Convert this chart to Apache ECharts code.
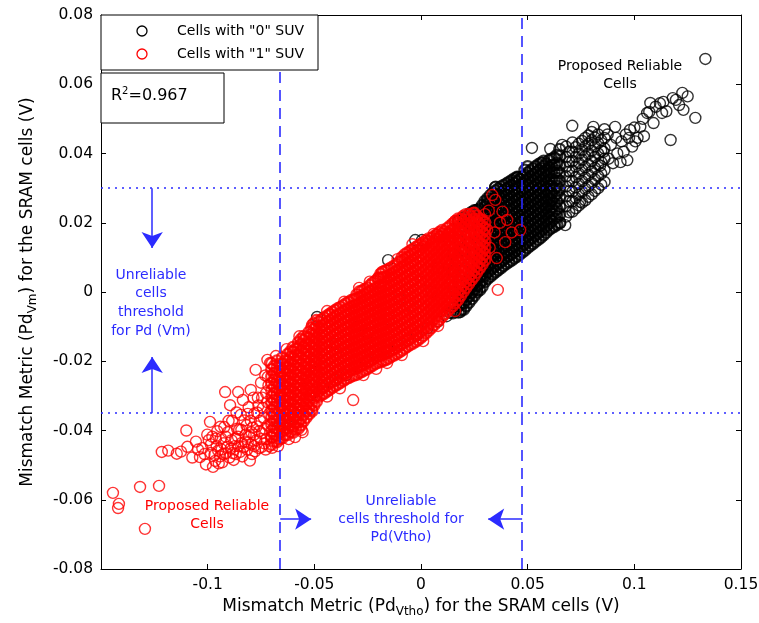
<!DOCTYPE html>
<html><head><meta charset="utf-8">
<script src="https://cdn.jsdelivr.net/npm/echarts@6/dist/echarts.min.js"></script>
<style>html,body{margin:0;padding:0;background:#fff}#c{width:759px;height:623px}</style>
</head><body><div id="c"></div><script>
const FONT = 'DejaVu Sans';
const BLUE = '#2b2bff';

// Cells with "0" SUV : isolated points [x, y]
const zeroPoints = [
[.1333,.0673],[.1225,.0575],[.118,.056],[.1136,.0549],[.1075,.0546],[.123,.0526],[.1286,.0503],[.117,.0439],[.113,.0517],[.106,.0517],[.109,.0488],[.1028,.0477],[.098,.0468],[.091,.0477],[.0808,.0477],[.0709,.048],[.052,.0416],[.0606,.0413],[.0662,.0425],[.1015,.0445],[.0967,.0381],[.090,.0372],[.0456,.0332],[.0653,.020],[.0746,.026],[.0676,.0193],
[.092,.040],[.094,.0435],[.096,.0455],[.099,.042],[.100,.0475],[.104,.050],[.1045,.045],[.107,.052],[.110,.0535],[.112,.0545],[.115,.0522],[.1195,.0555],[.121,.054],[.125,.0565],[.0935,.0375],[.095,.0405],[.0975,.0445],[.1005,.0435],[.088,.0385],[.089,.0425],[.0915,.0445],[.0875,.0455],[.0855,.0405],[.084,.0365],
[-.066,-.038],[-.060,-.036],[-.052,-.030],[-.046,-.0277],[-.040,-.0255],[-.035,-.024],[-.030,-.0215],[-.025,-.020],[-.020,-.0185],[-.015,-.017],[-.011,-.0153],[-.006,-.014],[-.002,-.0125],[.003,-.0105],[.008,-.0085],[.012,-.007],[-.050,-.020],[-.040,-.015],[-.030,-.010],[-.020,-.006],[-.010,-.002],[0,.003],[.008,.007],[-.035,-.018],[-.025,-.012],[-.015,-.008],[-.005,-.004],[.005,0],[-.045,-.022],[-.055,-.028],
[-.0154,.0092],[-.0487,-.0072],[.0005,.015],[.0076,.0165],[-.0027,.015],[.009,.0159],[.0175,.018],[.0263,.0006],[.0184,-.0058],[.0136,-.006],[.026,.0237],[.031,.026],[.0348,.0303],[.045,.033],[.057,.0373]
];
// Cells with "0" SUV : dense core, each row is [x, y1, y2, ...]
const zeroColumns = [
[.0150,-.0060,-.0042,.0015,.0060,.0110,.0160],
[.0162,-.0055,-.0037,-.0019,.0000],
[.0175,-.0058,-.0040,-.0022,.0030,.0090,.0150,.0205],
[.0187,-.0052,-.0034,-.0016,.0002,.0020],
[.0200,-.0050,-.0032,-.0014,.0004,.0060,.0120,.0190,.0215],
[.0212,-.0040,-.0022,-.0004,.0014,.0032],
[.0225,-.0030,-.0012,.0006,.0024,.0080,.0140,.0200,.0225],
[.0237,-.0020,-.0002,.0016,.0034,.0052,.0230],
[.0250,-.0010,.0008,.0026,.0044,.0062,.0110,.0170,.0215,.0235],
[.0262,.0000,.0018,.0036,.0054,.0072,.0235],
[.0275,.0006,.0024,.0042,.0060,.0078,.0096,.0130,.0170,.0210,.0240],
[.0287,.0016,.0034,.0052,.0070,.0088,.0105,.0250],
[.0300,.0030,.0048,.0066,.0084,.0102,.0120,.0138,.0156,.0174,.0192,.0210,.0228,.0246,.0262],
[.0312,.0039,.0057,.0075,.0093,.0111,.0129,.0147,.0165,.0183,.0201,.0219,.0237,.0255,.0270],
[.0325,.0045,.0063,.0081,.0099,.0117,.0135,.0153,.0171,.0189,.0207,.0225,.0243,.0261,.0279],
[.0337,.0052,.0070,.0088,.0106,.0124,.0142,.0160,.0178,.0196,.0214,.0232,.0250,.0268,.0286],
[.0350,.0058,.0076,.0094,.0112,.0130,.0148,.0166,.0184,.0202,.0220,.0238,.0256,.0274,.0292,.0303],
[.0362,.0064,.0082,.0100,.0118,.0136,.0154,.0172,.0190,.0208,.0226,.0244,.0262,.0280,.0298],
[.0375,.0070,.0088,.0106,.0124,.0142,.0160,.0178,.0196,.0214,.0232,.0250,.0268,.0286,.0304],
[.0387,.0076,.0094,.0112,.0130,.0148,.0166,.0184,.0202,.0220,.0238,.0256,.0274,.0292,.0308],
[.0400,.0082,.0100,.0118,.0136,.0154,.0172,.0190,.0208,.0226,.0244,.0262,.0280,.0298,.0312],
[.0412,.0087,.0105,.0123,.0141,.0159,.0177,.0195,.0213,.0231,.0249,.0267,.0285,.0303,.0317],
[.0425,.0092,.0110,.0128,.0146,.0164,.0182,.0200,.0218,.0236,.0254,.0272,.0290,.0308,.0322],
[.0437,.0098,.0116,.0134,.0152,.0170,.0188,.0206,.0224,.0242,.0260,.0278,.0296,.0314,.0327],
[.0450,.0103,.0121,.0139,.0157,.0175,.0193,.0211,.0229,.0247,.0265,.0283,.0301,.0319,.0332],
[.0462,.0109,.0127,.0145,.0163,.0181,.0199,.0217,.0235,.0253,.0271,.0289,.0307,.0325],
[.0475,.0115,.0133,.0151,.0169,.0187,.0205,.0223,.0241,.0259,.0277,.0295,.0313,.0331],
[.0487,.0121,.0139,.0157,.0175,.0193,.0211,.0229,.0247,.0265,.0283,.0301,.0319,.0337,.0352],
[.0500,.0128,.0146,.0164,.0182,.0200,.0218,.0236,.0254,.0272,.0290,.0308,.0326,.0344,.0362],
[.0512,.0134,.0152,.0170,.0188,.0206,.0224,.0242,.0260,.0278,.0296,.0314,.0332,.0350],
[.0525,.0140,.0158,.0176,.0194,.0212,.0230,.0248,.0266,.0284,.0302,.0320,.0338,.0356],
[.0537,.0146,.0164,.0182,.0200,.0218,.0236,.0254,.0272,.0290,.0308,.0326,.0344,.0362],
[.0550,.0152,.0170,.0188,.0206,.0224,.0242,.0260,.0278,.0296,.0314,.0332,.0350,.0368],
[.0562,.0158,.0176,.0194,.0212,.0230,.0248,.0266,.0284,.0302,.0320,.0338,.0356,.0372],
[.0575,.0165,.0183,.0201,.0219,.0237,.0255,.0273,.0291,.0309,.0327,.0345,.0363,.0378],
[.0587,.0172,.0190,.0208,.0226,.0244,.0262,.0280,.0298,.0316,.0334,.0352,.0370],
[.0600,.0180,.0198,.0216,.0234,.0252,.0270,.0288,.0306,.0324,.0342,.0360,.0380],
[.0612,.0185,.0205,.0225,.0245,.0265,.0285,.0305,.0325,.0345,.0365,.0384],
[.0625,.0190,.0212,.0234,.0256,.0278,.0300,.0322,.0344,.0366,.0388],
[.0637,.0195,.0218,.0240,.0262,.0284,.0306,.0328,.0350,.0372,.0395],
[.0650,.0200,.0224,.0248,.0272,.0296,.0320,.0344,.0368,.0392,.0412]
];
// Cells with "0" SUV : looser band above the core, each row is [x, y1, y2, ...]
const zeroOuterColumns = [
[.0680,.0218,.0248,.0276,.0305,.0334,.0362,.0390,.0420],
[.0695,.0230,.0262,.0291,.0320,.0348,.0376,.0405],
[.0710,.0232,.0262,.0290,.0320,.0350,.0378,.0405,.0432],
[.0725,.0242,.0272,.0302,.0332,.0362,.0390,.0418],
[.0740,.0250,.0282,.0312,.0342,.0372,.0400,.0428],
[.0755,.0258,.0290,.0320,.0352,.0382,.0410,.0436],
[.0770,.0265,.0298,.0330,.0360,.0392,.0420,.0445],
[.0785,.0275,.0306,.0338,.0368,.0400,.0428,.0452],
[.0800,.0282,.0315,.0348,.0378,.0408,.0438,.0462],
[.0815,.0292,.0325,.0358,.0390,.0420,.0446],
[.0830,.0300,.0335,.0368,.0400,.0430,.0455],
[.0845,.0310,.0342,.0375,.0408,.0438],
[.0860,.0318,.0352,.0385,.0415,.0445,.0470]
];

// Cells with "1" SUV : isolated points [x, y]
const onePoints = [
[-.1444,-.058],[-.1416,-.0612],[-.142,-.0624],[-.1317,-.0563],[-.1228,-.056],[-.1294,-.0684],
[-.1215,-.0462],[-.1185,-.0458],[-.1145,-.0467],[-.1125,-.0461],[-.110,-.040],[-.1095,-.0447],[-.1072,-.0478],[-.1055,-.0432],[-.1036,-.0477],[-.1025,-.0451],[-.1008,-.0498],[-.1002,-.0412],[-.0989,-.0375],[-.0985,-.044],[-.0975,-.0505],[-.0968,-.0471],[-.0962,-.0423],[-.0951,-.0458],[-.094,-.0389],[-.0932,-.0492],[-.0925,-.0437],[-.0918,-.0289],[-.0915,-.0466],[-.0905,-.0405],[-.0895,-.0327],[-.0892,-.0452],[-.0885,-.0372],[-.0878,-.0485],[-.0871,-.0423],[-.0865,-.0348],[-.0857,-.0289],[-.0852,-.0398],[-.0848,-.0462],[-.084,-.0436],[-.0835,-.0312],[-.0828,-.0371],[-.0822,-.0412],[-.0815,-.0455],[-.0808,-.0333],[-.0802,-.0487],[-.0798,-.0283],[-.0792,-.0468],[-.0788,-.0392],[-.0781,-.0351],[-.0775,-.0225],[-.0772,-.0428],[-.0765,-.0305],[-.076,-.0451],[-.0755,-.0372],[-.075,-.0262],[-.0745,-.0408],[-.0741,-.0335],[-.0735,-.0437],[-.073,-.0241],[-.0726,-.0292],[-.072,-.0196],[-.0718,-.0385],[-.0712,-.0352],[-.0707,-.0205],[-.0703,-.0418],[-.0698,-.045],
[-.0965,-.0488],[-.0942,-.0475],[-.0915,-.0418],[-.0898,-.0478],[-.0872,-.0445],[-.0862,-.0395],[-.0845,-.0355],[-.0832,-.0448],[-.0818,-.0385],[-.0805,-.0418],[-.0795,-.044],[-.0785,-.0305],[-.0778,-.046],[-.0768,-.0348],[-.0752,-.0425],[-.0738,-.0362],[-.0728,-.0455],[-.0722,-.0318],[-.0715,-.027],[-.1045,-.0455],[-.1015,-.0468],[-.0995,-.0428],[-.0955,-.0402],[-.0935,-.0455],[-.0922,-.039],
[-.0985,-.0465],[-.0978,-.0418],[-.0958,-.0445],[-.0948,-.0495],[-.0938,-.0422],[-.0928,-.0468],[-.0908,-.0448],[-.0902,-.0372],[-.0888,-.0428],[-.0882,-.0465],[-.0868,-.0468],[-.0858,-.0418],[-.0855,-.0445],[-.0842,-.0398],[-.0838,-.0475],[-.0825,-.0432],[-.0812,-.0435],[-.0812,-.0352],[-.0798,-.0372],[-.0795,-.0405],[-.0782,-.0412],[-.0782,-.0445],[-.077,-.0388],[-.0762,-.0328],[-.0758,-.0402],[-.0748,-.0448],[-.0745,-.0305],[-.0732,-.0395],[-.0725,-.0425],[-.0718,-.0245],[-.0712,-.0445],
[-.059,-.0419],[-.0318,-.0312],[-.0159,-.0205],[.036,.0006],[-.0426,-.0067],[-.0485,-.0282],[-.0555,-.0405],[-.02,.0042],[-.0182,.0058],[.0035,.0155],[.0137,.017],[.0245,.0228],
[.0348,.0266],[.0334,.028],[.0404,.0208],[.0465,.0179],[.0395,.0144],[.037,.020],[.0318,.0235],[.0345,.0172],[.0322,.0128],[.0425,.0172],[.0382,.0232],[.0355,.0098],[.030,.0225],[.031,.018],
[-.068,-.0185],[-.063,-.0165],[-.057,-.0128],[-.051,-.0095],[-.044,-.0055],[-.036,-.0028],[-.029,.0012],[-.024,.003],[-.011,.0095],[-.004,.0138],[.006,.0168],[.016,.0205],[.021,.0225],
[-.067,-.0445],[-.062,-.0425],[-.056,-.0398],[-.051,-.0345],[-.044,-.0302],[-.038,-.0278],[-.027,-.024],[-.021,-.0222],[-.009,-.0182],[.001,-.0142],[.008,-.0098],[.016,-.0055]
];
// Cells with "1" SUV : dense core, each row is [x, y1, y2, ...]
const oneColumns = [
[-.0700,-.0440,-.0420,-.0401,-.0382,-.0361,-.0342,-.0322,-.0303,-.0284,-.0263,-.0244,-.0224,-.0206],
[-.0688,-.0431,-.0411,-.0392,-.0372,-.0352,-.0333,-.0313,-.0293,-.0274,-.0254,-.0235,-.0214],
[-.0675,-.0432,-.0413,-.0393,-.0374,-.0355,-.0336,-.0316,-.0297,-.0277,-.0258,-.0239,-.0219,-.0199],
[-.0662,-.0424,-.0404,-.0384,-.0365,-.0345,-.0326,-.0306,-.0287,-.0268,-.0248,-.0229,-.0208],
[-.0650,-.0421,-.0402,-.0383,-.0364,-.0344,-.0325,-.0306,-.0286,-.0267,-.0248,-.0228,-.0209,-.0190],
[-.0637,-.0412,-.0393,-.0373,-.0354,-.0335,-.0315,-.0296,-.0276,-.0257,-.0238,-.0218,-.0199],
[-.0625,-.0412,-.0393,-.0374,-.0354,-.0335,-.0316,-.0296,-.0277,-.0258,-.0238,-.0219,-.0200,-.0180],
[-.0612,-.0403,-.0384,-.0364,-.0345,-.0325,-.0306,-.0287,-.0267,-.0248,-.0228,-.0209,-.0189,-.0172],
[-.0600,-.0405,-.0386,-.0367,-.0347,-.0328,-.0309,-.0289,-.0270,-.0251,-.0231,-.0212,-.0193,-.0173,-.0160],
[-.0588,-.0396,-.0376,-.0357,-.0338,-.0318,-.0299,-.0280,-.0260,-.0241,-.0222,-.0202,-.0183,-.0165],
[-.0575,-.0394,-.0375,-.0356,-.0336,-.0317,-.0298,-.0278,-.0259,-.0240,-.0220,-.0201,-.0182,-.0162,-.0146],
[-.0563,-.0384,-.0365,-.0345,-.0326,-.0307,-.0287,-.0268,-.0249,-.0229,-.0210,-.0191,-.0171,-.0152,-.0137],
[-.0550,-.0372,-.0353,-.0334,-.0314,-.0295,-.0276,-.0256,-.0237,-.0218,-.0198,-.0179,-.0160,-.0140,-.0128],
[-.0538,-.0362,-.0343,-.0324,-.0305,-.0285,-.0266,-.0247,-.0227,-.0208,-.0189,-.0170,-.0150,-.0132],
[-.0525,-.0352,-.0335,-.0314,-.0297,-.0279,-.0262,-.0241,-.0226,-.0207,-.0188,-.0172,-.0151,-.0133,-.0116],
[-.0513,-.0340,-.0321,-.0303,-.0286,-.0268,-.0249,-.0231,-.0213,-.0195,-.0177,-.0159,-.0141,-.0122,-.0104],
[-.0502,-.0327,-.0306,-.0290,-.0271,-.0253,-.0234,-.0218,-.0199,-.0180,-.0163,-.0144,-.0126,-.0108,-.0091],
[-.0490,-.0316,-.0298,-.0280,-.0262,-.0243,-.0226,-.0208,-.0190,-.0171,-.0153,-.0135,-.0117,-.0099,-.0082],
[-.0478,-.0301,-.0285,-.0266,-.0247,-.0231,-.0212,-.0193,-.0176,-.0158,-.0139,-.0121,-.0104,-.0086],
[-.0465,-.0296,-.0278,-.0260,-.0242,-.0224,-.0206,-.0188,-.0170,-.0152,-.0134,-.0116,-.0098,-.0080],
[-.0453,-.0292,-.0274,-.0255,-.0238,-.0219,-.0202,-.0183,-.0166,-.0147,-.0129,-.0112,-.0094,-.0075],
[-.0440,-.0286,-.0268,-.0250,-.0232,-.0213,-.0195,-.0177,-.0159,-.0141,-.0123,-.0105,-.0087,-.0069],
[-.0428,-.0281,-.0262,-.0245,-.0226,-.0209,-.0190,-.0172,-.0155,-.0136,-.0118,-.0101,-.0083,-.0064],
[-.0415,-.0275,-.0257,-.0239,-.0221,-.0203,-.0185,-.0166,-.0148,-.0130,-.0112,-.0094,-.0076,-.0058],
[-.0402,-.0270,-.0252,-.0233,-.0216,-.0198,-.0179,-.0162,-.0143,-.0125,-.0108,-.0090,-.0071,-.0053],
[-.0390,-.0266,-.0248,-.0229,-.0211,-.0193,-.0175,-.0157,-.0139,-.0121,-.0103,-.0085,-.0066,-.0048],
[-.0377,-.0261,-.0243,-.0225,-.0206,-.0188,-.0170,-.0152,-.0134,-.0116,-.0098,-.0080,-.0062,-.0044],
[-.0364,-.0256,-.0238,-.0220,-.0202,-.0184,-.0165,-.0147,-.0129,-.0111,-.0093,-.0075,-.0057,-.0039],
[-.0352,-.0251,-.0233,-.0214,-.0197,-.0178,-.0160,-.0142,-.0124,-.0106,-.0088,-.0070,-.0052,-.0034],
[-.0339,-.0247,-.0229,-.0211,-.0192,-.0174,-.0156,-.0138,-.0120,-.0102,-.0084,-.0066,-.0047,-.0029],
[-.0326,-.0243,-.0224,-.0206,-.0188,-.0170,-.0152,-.0134,-.0115,-.0097,-.0079,-.0061,-.0043,-.0024],
[-.0313,-.0240,-.0222,-.0203,-.0185,-.0167,-.0149,-.0131,-.0113,-.0094,-.0076,-.0058,-.0040,-.0021],
[-.0301,-.0238,-.0219,-.0201,-.0183,-.0164,-.0146,-.0128,-.0110,-.0092,-.0074,-.0055,-.0037,-.0019,-.0008],
[-.0288,-.0233,-.0215,-.0197,-.0178,-.0160,-.0142,-.0124,-.0106,-.0088,-.0069,-.0051,-.0033,-.0015,.0001],
[-.0276,-.0229,-.0211,-.0192,-.0174,-.0156,-.0138,-.0120,-.0102,-.0083,-.0065,-.0047,-.0029,-.0011,.0003],
[-.0263,-.0225,-.0207,-.0188,-.0170,-.0152,-.0134,-.0116,-.0097,-.0079,-.0061,-.0043,-.0025,-.0006,.0008],
[-.0251,-.0221,-.0203,-.0185,-.0166,-.0148,-.0130,-.0112,-.0094,-.0075,-.0057,-.0039,-.0021,-.0003,.0012],
[-.0239,-.0216,-.0198,-.0180,-.0162,-.0144,-.0125,-.0107,-.0089,-.0071,-.0053,-.0034,-.0016,.0002,.0019],
[-.0227,-.0212,-.0194,-.0176,-.0158,-.0140,-.0121,-.0103,-.0085,-.0067,-.0049,-.0030,-.0012,.0006,.0026],
[-.0214,-.0207,-.0189,-.0171,-.0153,-.0135,-.0117,-.0098,-.0080,-.0062,-.0044,-.0026,-.0008,.0011,.0031],
[-.0201,-.0203,-.0185,-.0167,-.0149,-.0131,-.0113,-.0094,-.0076,-.0058,-.0040,-.0022,-.0003,.0015,.0038],
[-.0189,-.0201,-.0183,-.0164,-.0146,-.0128,-.0110,-.0092,-.0074,-.0055,-.0037,-.0019,.0000,.0018,.0040,.0052],
[-.0176,-.0198,-.0180,-.0162,-.0143,-.0125,-.0107,-.0089,-.0071,-.0052,-.0034,-.0016,.0002,.0021,.0042,.0058],
[-.0164,-.0195,-.0176,-.0158,-.0140,-.0122,-.0104,-.0085,-.0067,-.0049,-.0031,-.0012,.0006,.0025,.0044,.0062],
[-.0151,-.0191,-.0173,-.0155,-.0136,-.0118,-.0100,-.0082,-.0063,-.0045,-.0027,-.0009,.0010,.0028,.0047,.0066],
[-.0139,-.0186,-.0168,-.0150,-.0132,-.0114,-.0095,-.0077,-.0059,-.0041,-.0022,-.0004,.0014,.0033,.0051,.0070],
[-.0126,-.0182,-.0164,-.0146,-.0127,-.0109,-.0091,-.0073,-.0054,-.0036,-.0018,.0001,.0019,.0037,.0056,.0075],
[-.0114,-.0178,-.0160,-.0141,-.0123,-.0105,-.0086,-.0068,-.0050,-.0031,-.0013,.0005,.0024,.0042,.0061,.0080],
[-.0101,-.0173,-.0155,-.0137,-.0118,-.0100,-.0082,-.0063,-.0045,-.0027,-.0008,.0010,.0028,.0047,.0065,.0087],
[-.0089,-.0168,-.0150,-.0131,-.0113,-.0095,-.0076,-.0058,-.0040,-.0021,-.0003,.0015,.0034,.0052,.0071,.0090,.0100],
[-.0076,-.0162,-.0144,-.0126,-.0107,-.0089,-.0071,-.0052,-.0034,-.0016,.0003,.0021,.0039,.0058,.0076,.0094,.0108],
[-.0064,-.0157,-.0139,-.0121,-.0102,-.0084,-.0066,-.0047,-.0029,-.0010,.0008,.0026,.0045,.0063,.0081,.0100,.0113],
[-.0051,-.0152,-.0134,-.0115,-.0097,-.0079,-.0060,-.0042,-.0024,-.0005,.0013,.0031,.0050,.0068,.0086,.0104,.0118],
[-.0039,-.0148,-.0130,-.0111,-.0093,-.0074,-.0056,-.0038,-.0019,-.0001,.0018,.0036,.0054,.0073,.0091,.0110,.0123],
[-.0026,-.0143,-.0125,-.0106,-.0088,-.0070,-.0051,-.0033,-.0015,.0004,.0022,.0040,.0059,.0077,.0095,.0114,.0128],
[-.0014,-.0138,-.0120,-.0101,-.0083,-.0064,-.0046,-.0028,-.0009,.0009,.0028,.0046,.0064,.0083,.0101,.0119,.0133],
[-.0001,-.0132,-.0114,-.0096,-.0077,-.0059,-.0041,-.0022,-.0004,.0015,.0033,.0051,.0070,.0088,.0106,.0124,.0138],
[.0011,-.0125,-.0107,-.0089,-.0070,-.0052,-.0034,-.0015,.0003,.0022,.0040,.0058,.0077,.0095,.0113,.0131,.0143],
[.0024,-.0118,-.0100,-.0082,-.0063,-.0045,-.0027,-.0008,.0010,.0029,.0047,.0065,.0084,.0102,.0120,.0139,.0149],
[.0036,-.0111,-.0092,-.0074,-.0056,-.0037,-.0019,.0000,.0018,.0036,.0055,.0073,.0091,.0110,.0128,.0146],
[.0049,-.0103,-.0085,-.0067,-.0048,-.0030,-.0012,.0007,.0025,.0043,.0062,.0080,.0098,.0117,.0135,.0155],
[.0061,-.0095,-.0077,-.0058,-.0040,-.0022,-.0003,.0015,.0034,.0052,.0070,.0089,.0107,.0125,.0144,.0160],
[.0074,-.0086,-.0068,-.0050,-.0031,-.0013,.0005,.0024,.0042,.0060,.0079,.0097,.0115,.0134,.0152,.0166],
[.0086,-.0079,-.0060,-.0042,-.0024,-.0005,.0013,.0031,.0050,.0068,.0086,.0105,.0123,.0141,.0160,.0172],
[.0099,-.0071,-.0052,-.0034,-.0016,.0003,.0021,.0039,.0058,.0076,.0094,.0113,.0131,.0149,.0168,.0178],
[.0111,-.0063,-.0044,-.0026,-.0007,.0011,.0029,.0048,.0066,.0084,.0103,.0121,.0139,.0158,.0174],
[.0124,-.0054,-.0036,-.0017,.0001,.0019,.0038,.0056,.0074,.0093,.0111,.0129,.0148,.0166,.0184],
[.0136,-.0047,-.0028,-.0010,.0009,.0027,.0045,.0064,.0082,.0100,.0119,.0137,.0155,.0174,.0190],
[.0149,-.0040,-.0021,-.0003,.0015,.0034,.0052,.0070,.0089,.0107,.0125,.0144,.0162,.0180,.0197],
[.0161,-.0031,-.0012,.0006,.0024,.0043,.0061,.0079,.0098,.0116,.0134,.0153,.0171,.0189,.0204],
[.0174,-.0022,-.0004,.0015,.0033,.0051,.0070,.0088,.0106,.0125,.0143,.0161,.0180,.0198,.0211],
[.0186,-.0010,.0008,.0027,.0045,.0063,.0082,.0100,.0118,.0137,.0155,.0173,.0192,.0210],
[.0199,.0002,.0020,.0038,.0057,.0075,.0093,.0112,.0130,.0148,.0167,.0185,.0203,.0219],
[.0211,.0013,.0031,.0049,.0068,.0086,.0104,.0123,.0141,.0159,.0178,.0196,.0214],
[.0224,.0024,.0043,.0061,.0079,.0098,.0116,.0134,.0153,.0171,.0189,.0208,.0224],
[.0236,.0035,.0053,.0072,.0090,.0108,.0127,.0145,.0163,.0182,.0200,.0218],
[.0249,.0045,.0063,.0082,.0100,.0118,.0137,.0155,.0173,.0192,.0210,.0228],
[.0261,.0057,.0075,.0094,.0112,.0130,.0149,.0167,.0185,.0203,.0220],
[.0274,.0068,.0086,.0105,.0123,.0141,.0160,.0178,.0196,.0212],
[.0287,.0080,.0099,.0117,.0135,.0154,.0172,.0190,.0207],
[.0299,.0092,.0110,.0128,.0147,.0165,.0183,.0201]
];

const seriesNames = ['Cells with "0" SUV', 'Cells with "1" SUV'];
const xThresholds = [-0.066, 0.0474];   // Pd(Vtho) thresholds
const yThresholds = [0.030, -0.035];    // Pd(Vm) thresholds
const rSquared = '0.967';

// Build scatter items; points in the crowded core get a heavier outline so the
// overlapping circles read as the solid mass seen in the original.
function pointsToItems(points, width) {
  return points.map(p => ({value: p, itemStyle: {borderWidth: width}}));
}
function columnsToItems(columns, width) {
  const out = [];
  columns.forEach(c => { for (let i = 1; i < c.length; i++) out.push({value: [c[0], c[i]], itemStyle: {borderWidth: width}}); });
  return out;
}
const zeroData = pointsToItems(zeroPoints, 1.4)
  .concat(columnsToItems(zeroColumns, 2.2))
  .concat(columnsToItems(zeroOuterColumns, 1.5));
const oneData = columnsToItems(oneColumns, 2.2).concat(pointsToItems(onePoints, 1.4));

const chart = echarts.init(document.getElementById('c'), null, {renderer: 'canvas'});
const axisCommon = {
  type: 'value',
  axisLine: {show: true, onZero: false, lineStyle: {color: '#000', width: 1}},
  axisTick: {show: true, inside: true, length: 5, lineStyle: {color: '#000'}},
  splitLine: {show: false}
};

chart.setOption({
  animation: false,
  backgroundColor: '#fff',
  grid: {left: 101, top: 15, width: 640, height: 554, outerBoundsMode: 'none', containLabel: false},
  xAxis: [
    Object.assign({}, axisCommon, {
      min: -0.15, max: 0.15, interval: 0.05, position: 'bottom',
      axisLabel: {color: '#000', fontFamily: FONT, fontSize: 15.5, margin: 8,
        formatter: v => (Math.abs(v + 0.15) < 1e-9 ? '' : String(+v.toFixed(4)))},
      name: 'Mismatch Metric (Pd{sub|Vtho}) for the SRAM cells (V)',
      nameLocation: 'middle', nameGap: 27,
      nameTextStyle: {color: '#000', fontFamily: FONT, fontSize: 17,
        rich: {sub: {fontFamily: FONT, fontSize: 12, color: '#000', padding: [10, 0, 0, 0]}}}
    }),
    Object.assign({}, axisCommon, {
      min: -0.15, max: 0.15, interval: 0.05, position: 'top', axisLabel: {show: false}
    })
  ],
  yAxis: [
    Object.assign({}, axisCommon, {
      min: -0.08, max: 0.08, interval: 0.02, position: 'left',
      axisLabel: {color: '#000', fontFamily: FONT, fontSize: 15.5, margin: 8,
        formatter: v => String(+v.toFixed(4))},
      name: 'Mismatch Metric (Pd{sub|Vm}) for the SRAM cells (V)',
      nameLocation: 'middle', nameGap: 62,
      nameTextStyle: {color: '#000', fontFamily: FONT, fontSize: 17,
        rich: {sub: {fontFamily: FONT, fontSize: 12, color: '#000', padding: [10, 0, 0, 0]}}}
    }),
    Object.assign({}, axisCommon, {
      min: -0.08, max: 0.08, interval: 0.02, position: 'right', axisLabel: {show: false}
    })
  ],
  series: [
    {
      type: 'scatter', name: seriesNames[0], data: zeroData, symbol: 'circle', symbolSize: 11,
      itemStyle: {color: 'rgba(0,0,0,0)', borderColor: '#000', borderWidth: 1.4},
      silent: true, z: 2, large: false, progressive: 0
    },
    {
      type: 'scatter', name: seriesNames[1], data: oneData, symbol: 'circle', symbolSize: 11,
      itemStyle: {color: 'rgba(0,0,0,0)', borderColor: '#ff0000', borderWidth: 1.4},
      silent: true, z: 3, large: false, progressive: 0
    },
    {
      type: 'scatter', name: 'thresholds', data: [], z: 5, silent: true,
      markLine: {
        silent: true, symbol: 'none', animation: false, precision: 5, label: {show: false},
        data: [
          {xAxis: xThresholds[0], lineStyle: {color: BLUE, width: 1.6, type: [11, 7]}},
          {xAxis: xThresholds[1], lineStyle: {color: BLUE, width: 1.6, type: [11, 7]}},
          {yAxis: yThresholds[0], lineStyle: {color: BLUE, width: 1.6, type: [2, 5]}},
          {yAxis: yThresholds[1], lineStyle: {color: BLUE, width: 1.6, type: [2, 5]}}
        ]
      }
    },
    {
      type: 'scatter', name: 'arrows', data: [], z: 6, silent: true,
      markLine: {
        silent: true, symbol: ['none', 'arrow'], symbolSize: 16, animation: false, precision: 5,
        label: {show: false}, lineStyle: {color: BLUE, width: 1.5, type: 'solid'},
        data: [
          [{coord: [-0.126, yThresholds[0]]}, {coord: [-0.126, 0.0127]}],
          [{coord: [-0.126, yThresholds[1]]}, {coord: [-0.126, -0.0188]}],
          [{coord: [xThresholds[0], -0.0656]}, {coord: [-0.0515, -0.0656]}],
          [{coord: [xThresholds[1], -0.0656]}, {coord: [0.0315, -0.0656]}]
        ]
      }
    }
  ],
  graphic: [
    {type: 'rect', z: 100, shape: {x: 101, y: 15, width: 217, height: 55},
      style: {fill: '#fff', stroke: '#000', lineWidth: 1}},
    {type: 'circle', z: 101, shape: {cx: 142, cy: 31, r: 5},
      style: {fill: 'none', stroke: '#000', lineWidth: 1.3}},
    {type: 'circle', z: 101, shape: {cx: 142, cy: 54, r: 5},
      style: {fill: 'none', stroke: '#ff0000', lineWidth: 1.3}},
    {type: 'text', z: 101, style: {text: seriesNames[0], x: 177, y: 31, font: '14px "DejaVu Sans"',
      fill: '#000', align: 'left', verticalAlign: 'middle'}},
    {type: 'text', z: 101, style: {text: seriesNames[1], x: 177, y: 54, font: '14px "DejaVu Sans"',
      fill: '#000', align: 'left', verticalAlign: 'middle'}},
    {type: 'rect', z: 100, shape: {x: 101, y: 73, width: 123, height: 50},
      style: {fill: '#fff', stroke: '#000', lineWidth: 1}},
    {type: 'text', z: 101, style: {text: 'R{sup|2}=' + rSquared, x: 111, y: 96,
      font: '16px "DejaVu Sans"', fill: '#000', align: 'left', verticalAlign: 'middle',
      rich: {sup: {fontSize: 10, fontFamily: FONT, fill: '#000', padding: [0, 0, 9, 0]}}}},
    {type: 'text', z: 50, style: {text: 'Proposed Reliable\nCells', x: 620, y: 75,
      font: '14px "DejaVu Sans"', fill: '#000', align: 'center', verticalAlign: 'middle', lineHeight: 18}},
    {type: 'text', z: 50, style: {text: 'Proposed Reliable\nCells', x: 207, y: 515,
      font: '14px "DejaVu Sans"', fill: '#ff0000', align: 'center', verticalAlign: 'middle', lineHeight: 18}},
    {type: 'text', z: 50, style: {text: 'Unreliable\ncells\nthreshold\nfor Pd (Vm)', x: 151, y: 303,
      font: '14px "DejaVu Sans"', fill: BLUE, align: 'center', verticalAlign: 'middle', lineHeight: 18.7}},
    {type: 'text', z: 50, style: {text: 'Unreliable\ncells threshold for\nPd(Vtho)', x: 401, y: 519,
      font: '14px "DejaVu Sans"', fill: BLUE, align: 'center', verticalAlign: 'middle', lineHeight: 18}}
  ]
});
</script></body></html>
